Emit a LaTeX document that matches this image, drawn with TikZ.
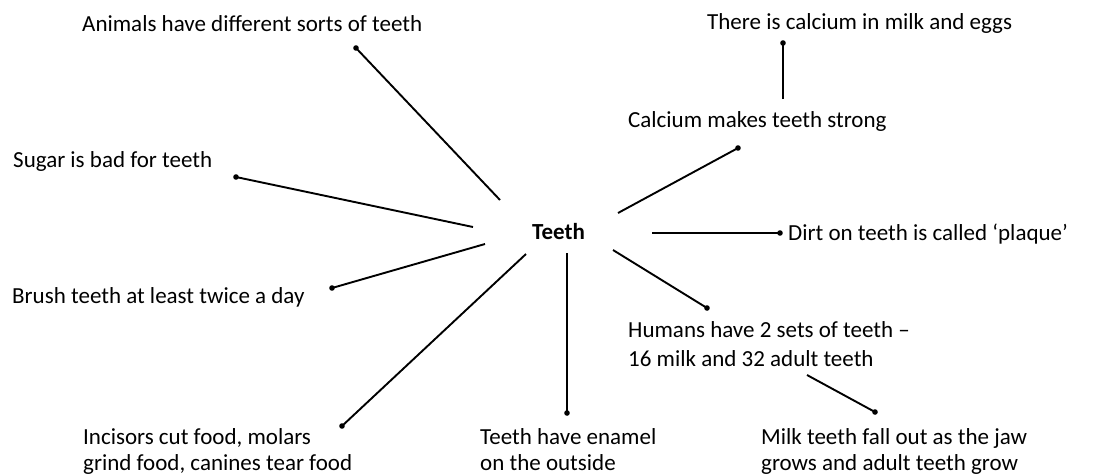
\documentclass[tikz,border=0pt]{standalone}
\usepackage{fontspec}
\setmainfont{Carlito}
\begin{document}
\begin{tikzpicture}[x=1pt,y=-1pt,
  lbl/.style={anchor=base west, inner sep=0pt, align=left, font=\fontsize{23}{26}\selectfont},
  hub/.style={anchor=base west, inner sep=0pt, font=\bfseries\fontsize{23}{26}\selectfont},
  conn/.style={line width=1.9pt, black},
  dotmark/.style={fill=black}]
\fill[white] (0,0) rectangle (1093,475);
\useasboundingbox (0,0) rectangle (1093,475);

% texts (multi-line nodes are placed by the baseline of their last line)
\node[hub] (teeth) at (532,239) {Teeth};
\node[lbl] (animals) at (82,31) {Animals have different sorts of teeth};
\node[lbl] (sugar) at (13,167) {Sugar is bad for teeth};
\node[lbl] (brush) at (12,303) {Brush teeth at least twice a day};
\node[lbl] (incisors) at (83,470) {Incisors cut food, molars\\grind food, canines tear food};
\node[lbl] (enamel) at (480,470) {Teeth have enamel\\on the outside};
\node[lbl] (milk) at (761,470) {Milk teeth fall out as the jaw\\grows and adult teeth grow};
\node[lbl, font=\fontsize{23}{29}\selectfont] (humans) at (628,366) {Humans have 2 sets of teeth --\\16 milk and 32 adult teeth};
\node[lbl] (dirt) at (788,240) {Dirt on teeth is called `plaque'};
\node[lbl] (calcium) at (628,127) {Calcium makes teeth strong};
\node[lbl] (there) at (707,29) {There is calcium in milk and eggs};

% connector end points
\coordinate (hA) at (500,200); \coordinate (dA) at (356,48);
\coordinate (hS) at (473,227); \coordinate (dS) at (236,177);
\coordinate (hB) at (485,244); \coordinate (dB) at (332,288);
\coordinate (hI) at (526,254); \coordinate (dI) at (342,426);
\coordinate (hE) at (567,253); \coordinate (dE) at (567,413);
\coordinate (hH) at (613,250); \coordinate (dH) at (707,308);
\coordinate (hD) at (652,233); \coordinate (dD) at (780,233);
\coordinate (hC) at (618,213); \coordinate (dC) at (738,148);
\coordinate (hT) at (783,99);  \coordinate (dT) at (783,43);
\coordinate (hM) at (807,375); \coordinate (dM) at (875,412);

\foreach \k in {A,S,B,I,E,H,D,C,T,M}{
  \draw[conn] (h\k) -- (d\k);
  \fill[dotmark] (d\k) circle (2.8);
}
\end{tikzpicture}
\end{document}
